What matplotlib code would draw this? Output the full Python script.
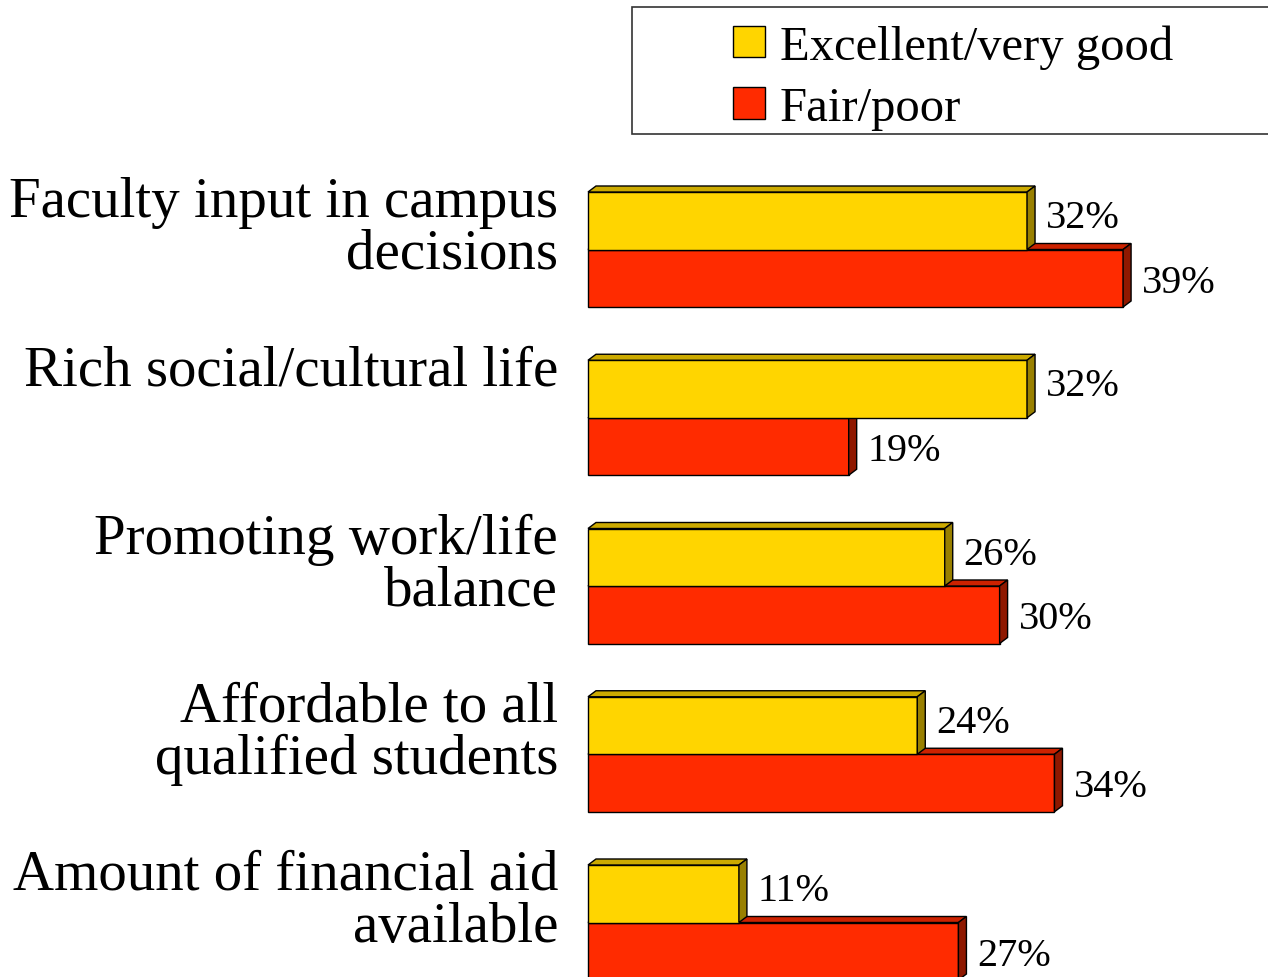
import numpy as np
import matplotlib
matplotlib.use("Agg")
import matplotlib.pyplot as plt
from matplotlib.patches import Patch, Rectangle

# data
categories = [
    "Faculty input in campus\ndecisions",
    "Rich social/cultural life",
    "Promoting work/life\nbalance",
    "Affordable to all\nqualified students",
    "Amount of financial aid\navailable",
]
excellent = [32, 32, 26, 24, 11]
fair_poor = [39, 19, 30, 34, 27]
series_names = ["Excellent/very good", "Fair/poor"]

plt.rcParams["font.family"] = ["Liberation Serif", "DejaVu Serif"]

W, H = 1268, 978
fig = plt.figure(figsize=(W / 100, H / 100), dpi=100)
ax = fig.add_axes([0, 0, 1, 1])
ax.set_axis_off()

# scales: 0% at x=588px, 13.72px per percent; groups 168.25px apart
x0, ppu = 588, 13.72
y0, ppg = 250.5, 168.25
ax.set_xlim(-x0 / ppu, (W - x0) / ppu)
ax.set_ylim((H - y0) / ppg, -y0 / ppg)

h = 57.5 / ppg          # bar thickness
ddx = 8 / ppu           # 3d depth
ddy = -6 / ppg

y = np.arange(len(categories))
y_exc = y - h / 2
y_fp = y + h / 2

colors = {
    "exc": ("#FFD500", "#CCAA00", "#998000"),
    "fp": ("#FF2B00", "#CC2200", "#8F1800"),
}


def bars_3d(vals, ys, cols, z):
    front, top, side = cols
    ax.barh(ys, vals, height=h, color=front, edgecolor="black", linewidth=1, zorder=z)
    for v, yc in zip(vals, ys):
        yt, yb = yc - h / 2, yc + h / 2
        ax.fill([0, v, v + ddx, ddx], [yt, yt, yt + ddy, yt + ddy],
                facecolor=top, edgecolor="black", linewidth=1, zorder=z)
        ax.fill([v, v + ddx, v + ddx, v], [yt, yt + ddy, yb + ddy, yb],
                facecolor=side, edgecolor="black", linewidth=1, zorder=z)


bars_3d(fair_poor, y_fp, colors["fp"], 1)
bars_3d(excellent, y_exc, colors["exc"], 3)

for v, yc in zip(excellent, y_exc):
    ax.annotate(f"{v}%", (v, yc), xytext=(19, 3), textcoords="offset pixels",
                va="center", ha="left", fontsize=29)
for v, yc in zip(fair_poor, y_fp):
    ax.annotate(f"{v}%", (v, yc), xytext=(19, -4), textcoords="offset pixels",
                va="center", ha="left", fontsize=29)

for lab, yc in zip(categories, y_exc):
    ax.annotate(lab, (0, yc - h / 2), xytext=(-30, 16), textcoords="offset pixels",
                va="top", ha="right", fontsize=41, linespacing=1.0)

# legend
fig.patches.append(Rectangle((632 / W, 1 - 135 / H), (W - 632 + 10) / W, 127 / H,
                             transform=fig.transFigure, facecolor="white",
                             edgecolor="#333333", linewidth=1.2, zorder=0))
handles = [Patch(facecolor=colors["exc"][0], edgecolor="black"),
           Patch(facecolor=colors["fp"][0], edgecolor="black")]
fig.legend(handles, series_names, loc="upper left", bbox_to_anchor=(733 / W, 1 - 25 / H),
           frameon=False, fontsize=35, handlelength=0.66, handleheight=0.62,
           handletextpad=0.3, labelspacing=0.36, borderpad=0, borderaxespad=0)

fig.savefig("out.png", dpi=100)
